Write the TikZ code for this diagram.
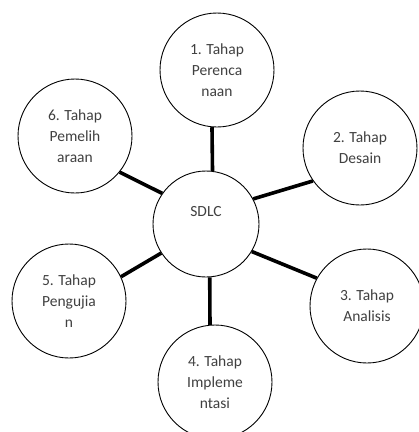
\documentclass[tikz,border=0pt]{standalone}
\usepackage{fontspec}
\setmainfont{Carlito}
\usetikzlibrary{positioning}

\begin{document}
\begin{tikzpicture}[x=1bp,y=-1bp,
  every node/.style={circle,draw,line width=0.9bp,fill=white,align=center,
    text=black!75,font=\fontsize{15.5bp}{21bp}\selectfont,minimum size=114bp,inner sep=0pt},
  link/.style={line width=3.6bp}]
  \clip (0,0) rectangle (419,432);
  \node (sdlc) at (206,224) [minimum size=106bp] {SDLC\\[4bp]};
  \node (n1) at (217,70) {1. Tahap\\Perenca\\naan};
  \node (n2) at (360,148) {2. Tahap\\Desain};
  \node (n3) at (367,306) {3. Tahap\\Analisis};
  \node (n4) at (215,382) {4. Tahap\\Impleme\\ntasi};
  \node (n5) at (69,301) {5. Tahap\\Pengujia\\n};
  \node (n6) at (75,136) {6. Tahap\\Pemelih\\araan};
  \foreach \n/\a/\b in {n1/83/265,n2/28/215,n3/329/151,n4/274/95,n5/213/25,n6/145/321}
    \draw[link] (sdlc.\a) -- (\n.\b);
\end{tikzpicture}
\end{document}
